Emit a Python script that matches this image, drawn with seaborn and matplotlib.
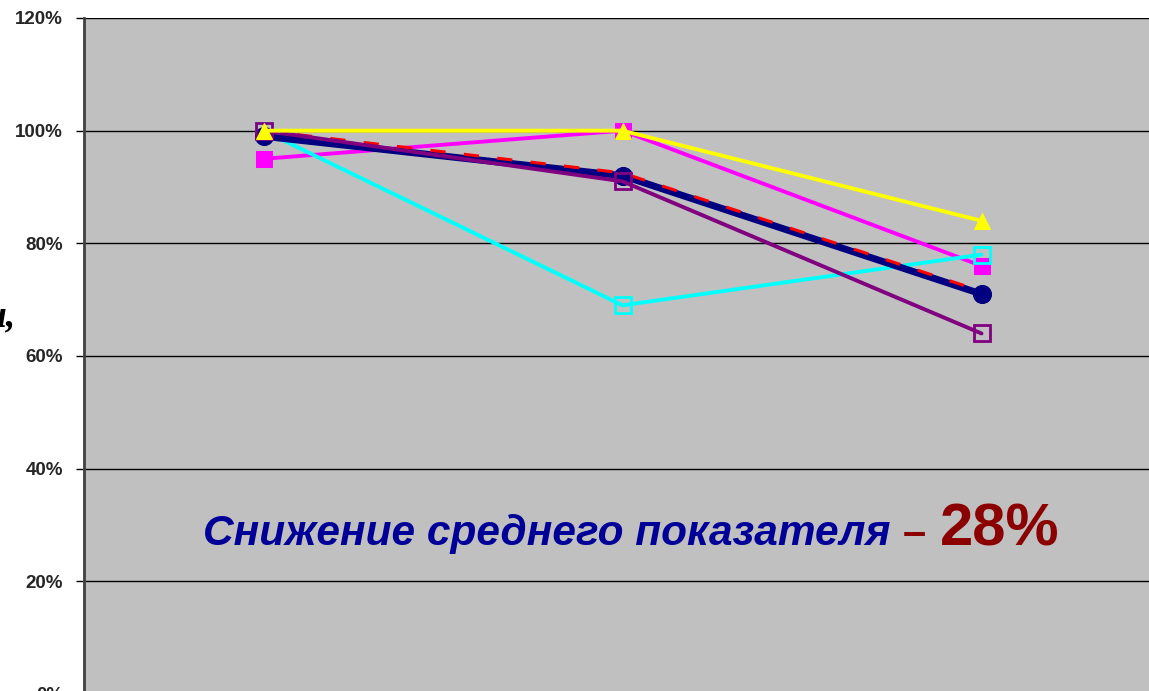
"""
plot.py — динамика показателей по трём этапам (снижение среднего).
"""

import matplotlib
matplotlib.use("Agg")
import matplotlib.pyplot as plt
import numpy as np
import seaborn as sns
from matplotlib.ticker import PercentFormatter

# ── Данные ─────────────────────────────────────────────────────────
stages = [0, 1, 2]

yellow_vals  = [1.00, 1.00, 0.84]
magenta_vals = [0.95, 1.00, 0.76]
cyan_vals    = [1.00, 0.69, 0.78]
navy_vals    = [0.99, 0.92, 0.71]
mean_vals    = [1.00, 0.925, 0.715]
purple_vals  = [1.00, 0.91, 0.64]

y_ticks = [0.0, 0.2, 0.4, 0.6, 0.8, 1.0, 1.2]

note_text  = "Снижение среднего показателя"
note_value = "28%"

# ── Оформление ─────────────────────────────────────────────────────
sns.set_style("white")
plt.rcParams["font.family"] = ["Liberation Sans", "DejaVu Sans"]

fig = plt.figure(figsize=(11.49, 6.91), dpi=100)
W, H = 1149, 691
# ось уходит за нижний и правый край картинки, как на исходнике
ax = fig.add_axes([84 / W, 1 - 694 / H, 1077 / W, 676 / H])
ax.set_facecolor("#c0c0c0")

for y in y_ticks:
    ax.axhline(y, color="black", lw=1.0, zorder=1)

# линии
sns.lineplot(x=stages, y=magenta_vals, ax=ax, color="#ff00ff", lw=2.8,
             marker="s", markersize=11, markerfacecolor="#ff00ff",
             markeredgecolor="#ff00ff", zorder=3)
sns.lineplot(x=stages, y=cyan_vals, ax=ax, color="#00ffff", lw=2.8,
             marker="s", markersize=11, markerfacecolor="none",
             markeredgecolor="#00ffff", markeredgewidth=2, zorder=3)
sns.lineplot(x=stages, y=navy_vals, ax=ax, color="#000080", lw=5,
             marker="o", markersize=13, markerfacecolor="#000080",
             markeredgecolor="#000080", zorder=4)
sns.lineplot(x=stages, y=mean_vals, ax=ax, color="#ff0000", lw=2.2,
             zorder=5).lines[-1].set_dashes([5, 6])
sns.lineplot(x=stages, y=purple_vals, ax=ax, color="#800080", lw=2.8,
             marker="s", markersize=11, markerfacecolor="none",
             markeredgecolor="#800080", markeredgewidth=2, zorder=6)
sns.lineplot(x=stages, y=yellow_vals, ax=ax, color="#ffff00", lw=2.8,
             marker="^", markersize=12, markerfacecolor="#ffff00",
             markeredgecolor="#ffff00", zorder=7)

# оси
ax.set_xlim(-0.5, 2.5)
ax.set_ylim(0, 1.2)
ax.set_yticks(y_ticks)
ax.yaxis.set_major_formatter(PercentFormatter(xmax=1, decimals=0))
ax.set_xticks([])
ax.set_xlabel("")
ax.set_ylabel("")
ax.tick_params(axis="y", direction="out", length=6, width=1, color="black",
               pad=9, labelsize=13.5, left=True)
for lbl in ax.get_yticklabels():
    lbl.set_fontweight("bold")
for side in ["top", "right", "bottom"]:
    ax.spines[side].set_visible(False)
ax.spines["left"].set_color("#404040")
ax.spines["left"].set_linewidth(2)

# подпись
fig.text(203 / W, 1 - 545 / H, note_text, color="#000099", fontsize=30.5,
         fontweight="bold", fontstyle="italic", va="baseline", ha="left")
fig.text(903 / W, 1 - 545 / H, "–", color="#8b0000", fontsize=30,
         fontweight="bold", va="baseline", ha="left")
fig.text(940 / W, 1 - 545 / H, note_value, color="#8b0000", fontsize=43,
         fontweight="bold", va="baseline", ha="left")

# обрезанный кусок подписи оси слева (на исходнике тоже срезан краем)
fig.text(16 / W, 1 - 326 / H, "и,", color="black", fontsize=27,
         fontweight="bold", fontstyle="italic", va="baseline", ha="right",
         family=["Liberation Serif", "DejaVu Serif"])

fig.savefig("out.png", dpi=100)
plt.close(fig)
